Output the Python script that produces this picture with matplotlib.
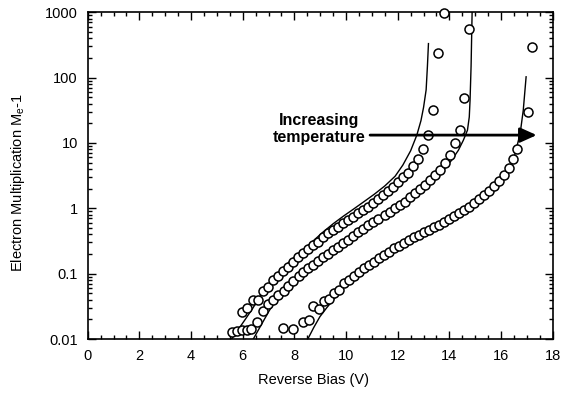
""" Electron multiplication vs reverse bias at three temperatures:
    measured points (open circles) and model curves (solid lines).
"""

import matplotlib
matplotlib.use('Agg')
import matplotlib.pyplot as plt
from matplotlib.ticker import FixedLocator, FixedFormatter, LogLocator, MultipleLocator, NullFormatter


# measured data, lowest temperature first
bias_1 = [5.57, 5.77, 5.96, 6.15, 5.96, 6.15, 6.39, 6.58, 6.77, 6.97,
          7.16, 7.35, 7.55, 7.74, 7.93, 8.13, 8.32, 8.51, 8.71, 8.90,
          9.09, 9.29, 9.48, 9.68, 9.87, 10.06, 10.26, 10.45, 10.64, 10.84,
          11.03, 11.22, 11.42, 11.61, 11.80, 12.00, 12.19, 12.38, 12.58, 12.77,
          12.97, 13.19, 13.38, 13.57, 13.79]
mult_1 = [0.0129, 0.0132, 0.0137, 0.0137, 0.0256, 0.0294, 0.0395, 0.0395, 0.0548, 0.0617,
          0.0798, 0.0919, 0.111, 0.128, 0.152, 0.177, 0.204, 0.235, 0.274, 0.308,
          0.359, 0.413, 0.464, 0.522, 0.587, 0.660, 0.742, 0.835, 0.938, 1.055,
          1.21, 1.38, 1.59, 1.83, 2.13, 2.55, 2.97, 3.49, 4.47, 5.78,
          8.23, 13.2, 31.7, 236, 977]

bias_2 = [6.32, 6.57, 6.80, 6.99, 7.19, 7.38, 7.58, 7.77, 7.96, 8.16,
          8.35, 8.54, 8.74, 8.93, 9.12, 9.32, 9.51, 9.70, 9.90, 10.09,
          10.28, 10.48, 10.67, 10.86, 11.06, 11.25, 11.51, 11.70, 11.90, 12.09,
          12.28, 12.48, 12.67, 12.87, 13.06, 13.25, 13.44, 13.64, 13.83, 14.03,
          14.22, 14.41, 14.57, 14.76]
mult_2 = [0.0142, 0.018, 0.027, 0.034, 0.040, 0.047, 0.055, 0.064, 0.078, 0.092,
          0.107, 0.120, 0.138, 0.157, 0.178, 0.20, 0.23, 0.26, 0.29, 0.33,
          0.38, 0.43, 0.49, 0.55, 0.61, 0.68, 0.787, 0.884, 0.996, 1.12,
          1.26, 1.47, 1.69, 1.95, 2.26, 2.70, 3.22, 3.84, 4.86, 6.50,
          9.82, 15.7, 48.4, 550]

bias_3 = [7.57, 7.96, 8.35, 8.58, 8.73, 8.97, 9.16, 9.35, 9.55, 9.74,
          9.93, 10.13, 10.32, 10.52, 10.71, 10.90, 11.10, 11.29, 11.48, 11.68,
          11.87, 12.06, 12.26, 12.45, 12.64, 12.84, 13.03, 13.22, 13.42, 13.61,
          13.81, 14.00, 14.19, 14.39, 14.58, 14.77, 14.97, 15.16, 15.35, 15.55,
          15.74, 15.93, 16.13, 16.32, 16.48, 16.61, 17.03, 17.21]
mult_3 = [0.0149, 0.0141, 0.018, 0.0195, 0.0323, 0.0284, 0.0386, 0.0404, 0.051, 0.056,
          0.071, 0.080, 0.093, 0.107, 0.120, 0.135, 0.152, 0.171, 0.192, 0.216,
          0.243, 0.264, 0.297, 0.326, 0.359, 0.389, 0.428, 0.464, 0.510, 0.553,
          0.622, 0.676, 0.760, 0.835, 0.938, 1.055, 1.21, 1.38, 1.59, 1.85,
          2.18, 2.61, 3.22, 4.07, 5.78, 8.23, 29.9, 295]

# model curves
model_bias_1 = [5.57, 5.8, 6.1, 6.4, 6.74, 7.1, 7.5, 7.9, 8.28, 8.7, 9.1, 9.5, 9.9,
                10.3, 10.7, 11.1, 11.5, 11.9, 12.2, 12.5, 12.74, 12.9, 13.0, 13.1,
                13.15, 13.19]
model_mult_1 = [0.010, 0.0135, 0.020, 0.030, 0.050, 0.078, 0.115, 0.165, 0.22, 0.31,
                0.43, 0.58, 0.76, 0.98, 1.27, 1.65, 2.2, 3.1, 4.6, 7.6, 13.2, 22,
                35, 65, 150, 332]

model_bias_2 = [6.41, 6.7, 7.0, 7.25, 7.6, 8.0, 8.5, 9.0, 9.5, 10.0, 10.5, 11.0,
                11.5, 12.0, 12.6, 12.99, 13.38, 13.77, 14.09, 14.35, 14.54, 14.70,
                14.77, 14.80, 14.84, 14.88]
model_mult_2 = [0.010, 0.016, 0.026, 0.038, 0.055, 0.080, 0.115, 0.165, 0.23, 0.31,
                0.42, 0.57, 0.78, 1.07, 1.58, 2.0, 2.70, 3.84, 5.46, 7.76, 11, 15.7,
                25, 45, 150, 1000]

model_bias_3 = [8.52, 8.75, 8.99, 9.25, 9.51, 10.0, 10.67, 11.3, 12.0, 12.6, 13.2,
                13.9, 14.54, 15.2, 15.83, 16.2, 16.48, 16.74, 16.86, 16.97]
model_mult_3 = [0.010, 0.015, 0.022, 0.030, 0.040, 0.068, 0.125, 0.19, 0.26, 0.33,
                0.43, 0.62, 0.84, 1.3, 2.13, 3.3, 5.46, 14, 31.8, 103]

y_ticks = [0.01, 0.1, 1, 10, 100, 1000]
y_tick_labels = ['0.01', '0.1', '1', '10', '100', '1000']

arrow_bias = [10.93, 17.38]
arrow_level = 13.2


def main():
    plt.rcParams['font.family'] = ['Liberation Sans', 'DejaVu Sans']

    fig = plt.figure(figsize=(5.64, 3.93), dpi=100)
    ax = fig.add_axes([0.1555, 0.1374, 0.8245, 0.8313])

    for bias, mult in [(model_bias_1, model_mult_1),
                       (model_bias_2, model_mult_2),
                       (model_bias_3, model_mult_3)]:
        ax.plot(bias, mult, color='black', lw=1.0)

    for bias, mult in [(bias_1, mult_1), (bias_2, mult_2), (bias_3, mult_3)]:
        ax.plot(bias, mult, ls='none', marker='o', ms=6.5, mfc='white',
                mec='black', mew=1.1, clip_on=False, zorder=3)

    ax.set_yscale('log')
    ax.set_xlim(0, 18)
    ax.set_ylim(0.01, 1000)

    ax.xaxis.set_major_locator(MultipleLocator(2))
    ax.xaxis.set_minor_locator(MultipleLocator(0.5))
    ax.yaxis.set_major_locator(FixedLocator(y_ticks))
    ax.yaxis.set_major_formatter(FixedFormatter(y_tick_labels))
    ax.yaxis.set_minor_locator(LogLocator(base=10, subs=range(2, 10)))
    ax.yaxis.set_minor_formatter(NullFormatter())

    ax.tick_params(which='both', direction='in', top=True, right=True,
                   width=1.0, labelsize=10.5)
    ax.tick_params(which='major', length=5.5, pad=7)
    ax.tick_params(which='minor', length=3)
    for sp in ax.spines.values():
        sp.set_linewidth(1.2)

    ax.set_xlabel('Reverse Bias (V)', fontsize=10.5)
    ax.set_ylabel('Electron Multiplication M$_\\mathregular{e}$-1', fontsize=10.5)
    ax.xaxis.set_label_coords(0.485, -0.104)
    ax.yaxis.set_label_coords(-0.13, 0.48)

    ax.annotate('', xy=(arrow_bias[1], arrow_level), xytext=(arrow_bias[0], arrow_level),
                arrowprops=dict(arrowstyle='-|>,head_length=1.0,head_width=0.45',
                                color='black', lw=2.0, shrinkA=0, shrinkB=0),
                zorder=4)
    ax.text(8.97, 16.3, 'Increasing\ntemperature', ha='center', va='center',
            fontsize=11.5, fontweight='bold', linespacing=1.15)

    fig.savefig('out.png', dpi=100)


if __name__ == '__main__':
    main()
